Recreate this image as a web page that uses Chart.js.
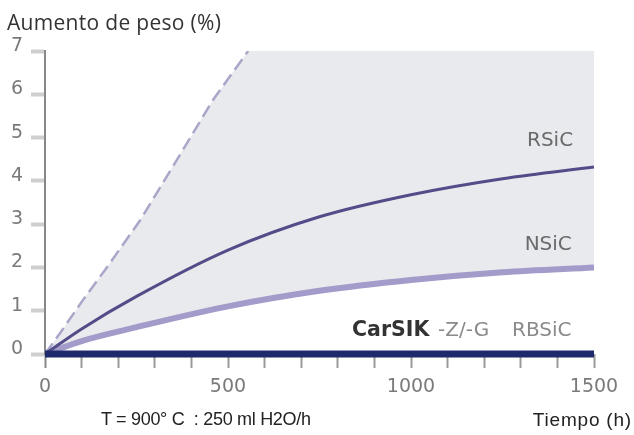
<!DOCTYPE html>
<html lang="es">
<head>
<meta charset="utf-8">
<title>Aumento de peso</title>
<script src="https://cdn.jsdelivr.net/npm/chart.js@4"></script>
<style>
    body { margin: 0; background: #fff; }
    .lienzo { position: relative; width: 634px; height: 435px; }
    .rotulo { position: absolute; white-space: pre; color: #333; }
    #titulo { left: 7px; top: 8px; font: 21px "Open Sans", sans-serif; letter-spacing: 0.3px; }
    #condiciones { left: 101px; top: 409px; font: 18px "Liberation Sans", Arial, sans-serif; color: #222; letter-spacing: -0.3px; }
    #tiempo { right: 2px; top: 409px; font: 19px "Liberation Sans", Arial, sans-serif; color: #222; letter-spacing: 0.8px; }
</style>
</head>
<body>
<div class="lienzo">
    <canvas id="grafico" width="634" height="435"></canvas>
    <div class="rotulo" id="titulo">Aumento de peso (%)</div>
    <div class="rotulo" id="condiciones">T = 900° C  : 250 ml H2O/h</div>
    <div class="rotulo" id="tiempo">Tiempo (h)</div>
</div>

<script>
// ================================
// Datos
// ================================

// linea discontinua
const tiempoDiscontinua = [0, 41, 104, 169, 260, 360, 459, 555];
const pesoDiscontinua = [0, 0.48, 1.25, 2.0, 3.09, 4.48, 5.87, 7];

// limite superior de la zona gris: discontinua + techo a 7 %
const tiempoLimite = [...tiempoDiscontinua, 1500];
const pesoLimite = [...pesoDiscontinua, 7];

const tiempo = [0, 100, 250, 500, 750, 1000, 1250, 1500];
const pesoRSiC = [0, 0.58, 1.33, 2.4, 3.17, 3.68, 4.05, 4.32];
const pesoNSiC = [0, 0.3, 0.62, 1.1, 1.46, 1.71, 1.89, 2.0];

const tiempoCarSIK = [0, 1500];
const pesoCarSIK = [0, 0];

const ticksX = [0, 500, 1000, 1500];

function puntos(xs, ys) {
    return xs.map((x, i) => ({ x: x, y: ys[i] }));
}

// ================================
// Rotulos dentro del grafico
// ================================

const rotulosSeries = {
    id: "rotulosSeries",
    afterDatasetsDraw(chart) {
        const { ctx, scales: { x, y } } = chart;
        ctx.save();
        ctx.textBaseline = "middle";

        ctx.font = "20px 'DejaVu Sans', sans-serif";
        ctx.fillStyle = "#6a6a6a";
        ctx.textAlign = "center";
        ctx.fillText("RSiC", x.getPixelForValue(1380), y.getPixelForValue(4.92));
        ctx.fillText("NSiC", x.getPixelForValue(1375), y.getPixelForValue(2.52));

        ctx.textAlign = "left";
        const py = y.getPixelForValue(0.53);
        ctx.font = "bold 20.5px 'DejaVu Sans', sans-serif";
        ctx.fillStyle = "#333";
        ctx.fillText("CarSIK", x.getPixelForValue(839), py);
        ctx.font = "20px 'DejaVu Sans', sans-serif";
        ctx.fillStyle = "#8a8a8a";
        ctx.fillText("-Z/-G", x.getPixelForValue(1074), py);
        ctx.fillText("RBSiC", x.getPixelForValue(1276), py);
        ctx.restore();
    }
};

// ================================
// Grafico
// ================================

const fuenteTicks = { family: "'DejaVu Sans', sans-serif", size: 19 };

new Chart(document.getElementById("grafico"), {

    type: "line",

    data: {
        datasets: [
            {
                label: "zona",
                data: puntos(tiempoLimite, pesoLimite),
                borderWidth: 0,
                borderColor: "rgba(0,0,0,0)",
                fill: { target: 3, above: "#e9eaee", below: "#e9eaee" },
                pointRadius: 0,
                order: 6
            },
            {
                label: "limite",
                data: puntos(tiempoDiscontinua, pesoDiscontinua),
                borderColor: "#aaa6c9",
                borderWidth: 2.5,
                borderDash: [13, 6],
                fill: false,
                pointRadius: 0,
                order: 5
            },
            {
                label: "RSiC",
                data: puntos(tiempo, pesoRSiC),
                borderColor: "#524c88",
                borderWidth: 3,
                cubicInterpolationMode: "monotone",
                pointRadius: 0,
                fill: false,
                order: 2
            },
            {
                label: "NSiC",
                data: puntos(tiempo, pesoNSiC),
                borderColor: "#a39bc9",
                borderWidth: 6,
                cubicInterpolationMode: "monotone",
                pointRadius: 0,
                fill: false,
                order: 3
            },
            {
                label: "CarSIK -Z/-G RBSiC",
                data: puntos(tiempoCarSIK, pesoCarSIK),
                borderColor: "#1e2a6b",
                borderWidth: 7,
                borderCapStyle: "butt",
                pointRadius: 0,
                fill: false,
                clip: false,
                order: 1
            }
        ]
    },

    options: {
        responsive: false,
        animation: false,
        layout: { padding: { left: 0, right: 40, top: 51, bottom: 41 } },
        plugins: {
            legend: { display: false },
            tooltip: { enabled: false }
        },
        scales: {
            x: {
                type: "linear",
                min: 0,
                max: 1500,
                afterFit: s => { s.height = 40; },
                ticks: {
                    stepSize: 100,
                    autoSkip: false,
                    maxRotation: 0,
                    padding: 8,
                    color: "#7a7a7a",
                    font: fuenteTicks,
                    callback: v => ticksX.includes(v) ? String(v) : ""
                },
                grid: {
                    drawOnChartArea: false,
                    drawTicks: true,
                    tickLength: 14,
                    tickWidth: 2,
                    tickColor: c => c.tick && c.tick.value === 0 ? "#888" : "#9a9a9a"
                },
                border: { display: false }
            },
            y: {
                min: 0,
                max: 7,
                afterFit: s => { s.width = 45; },
                ticks: {
                    stepSize: 1,
                    padding: 8,
                    labelOffset: -5,
                    color: "#7a7a7a",
                    font: fuenteTicks
                },
                grid: {
                    drawOnChartArea: false,
                    drawTicks: true,
                    tickLength: 14,
                    tickWidth: 4,
                    tickColor: "#cfcfcf"
                },
                border: { color: "#888", width: 2 }
            }
        }
    },

    plugins: [rotulosSeries]

});
</script>
</body>
</html>
